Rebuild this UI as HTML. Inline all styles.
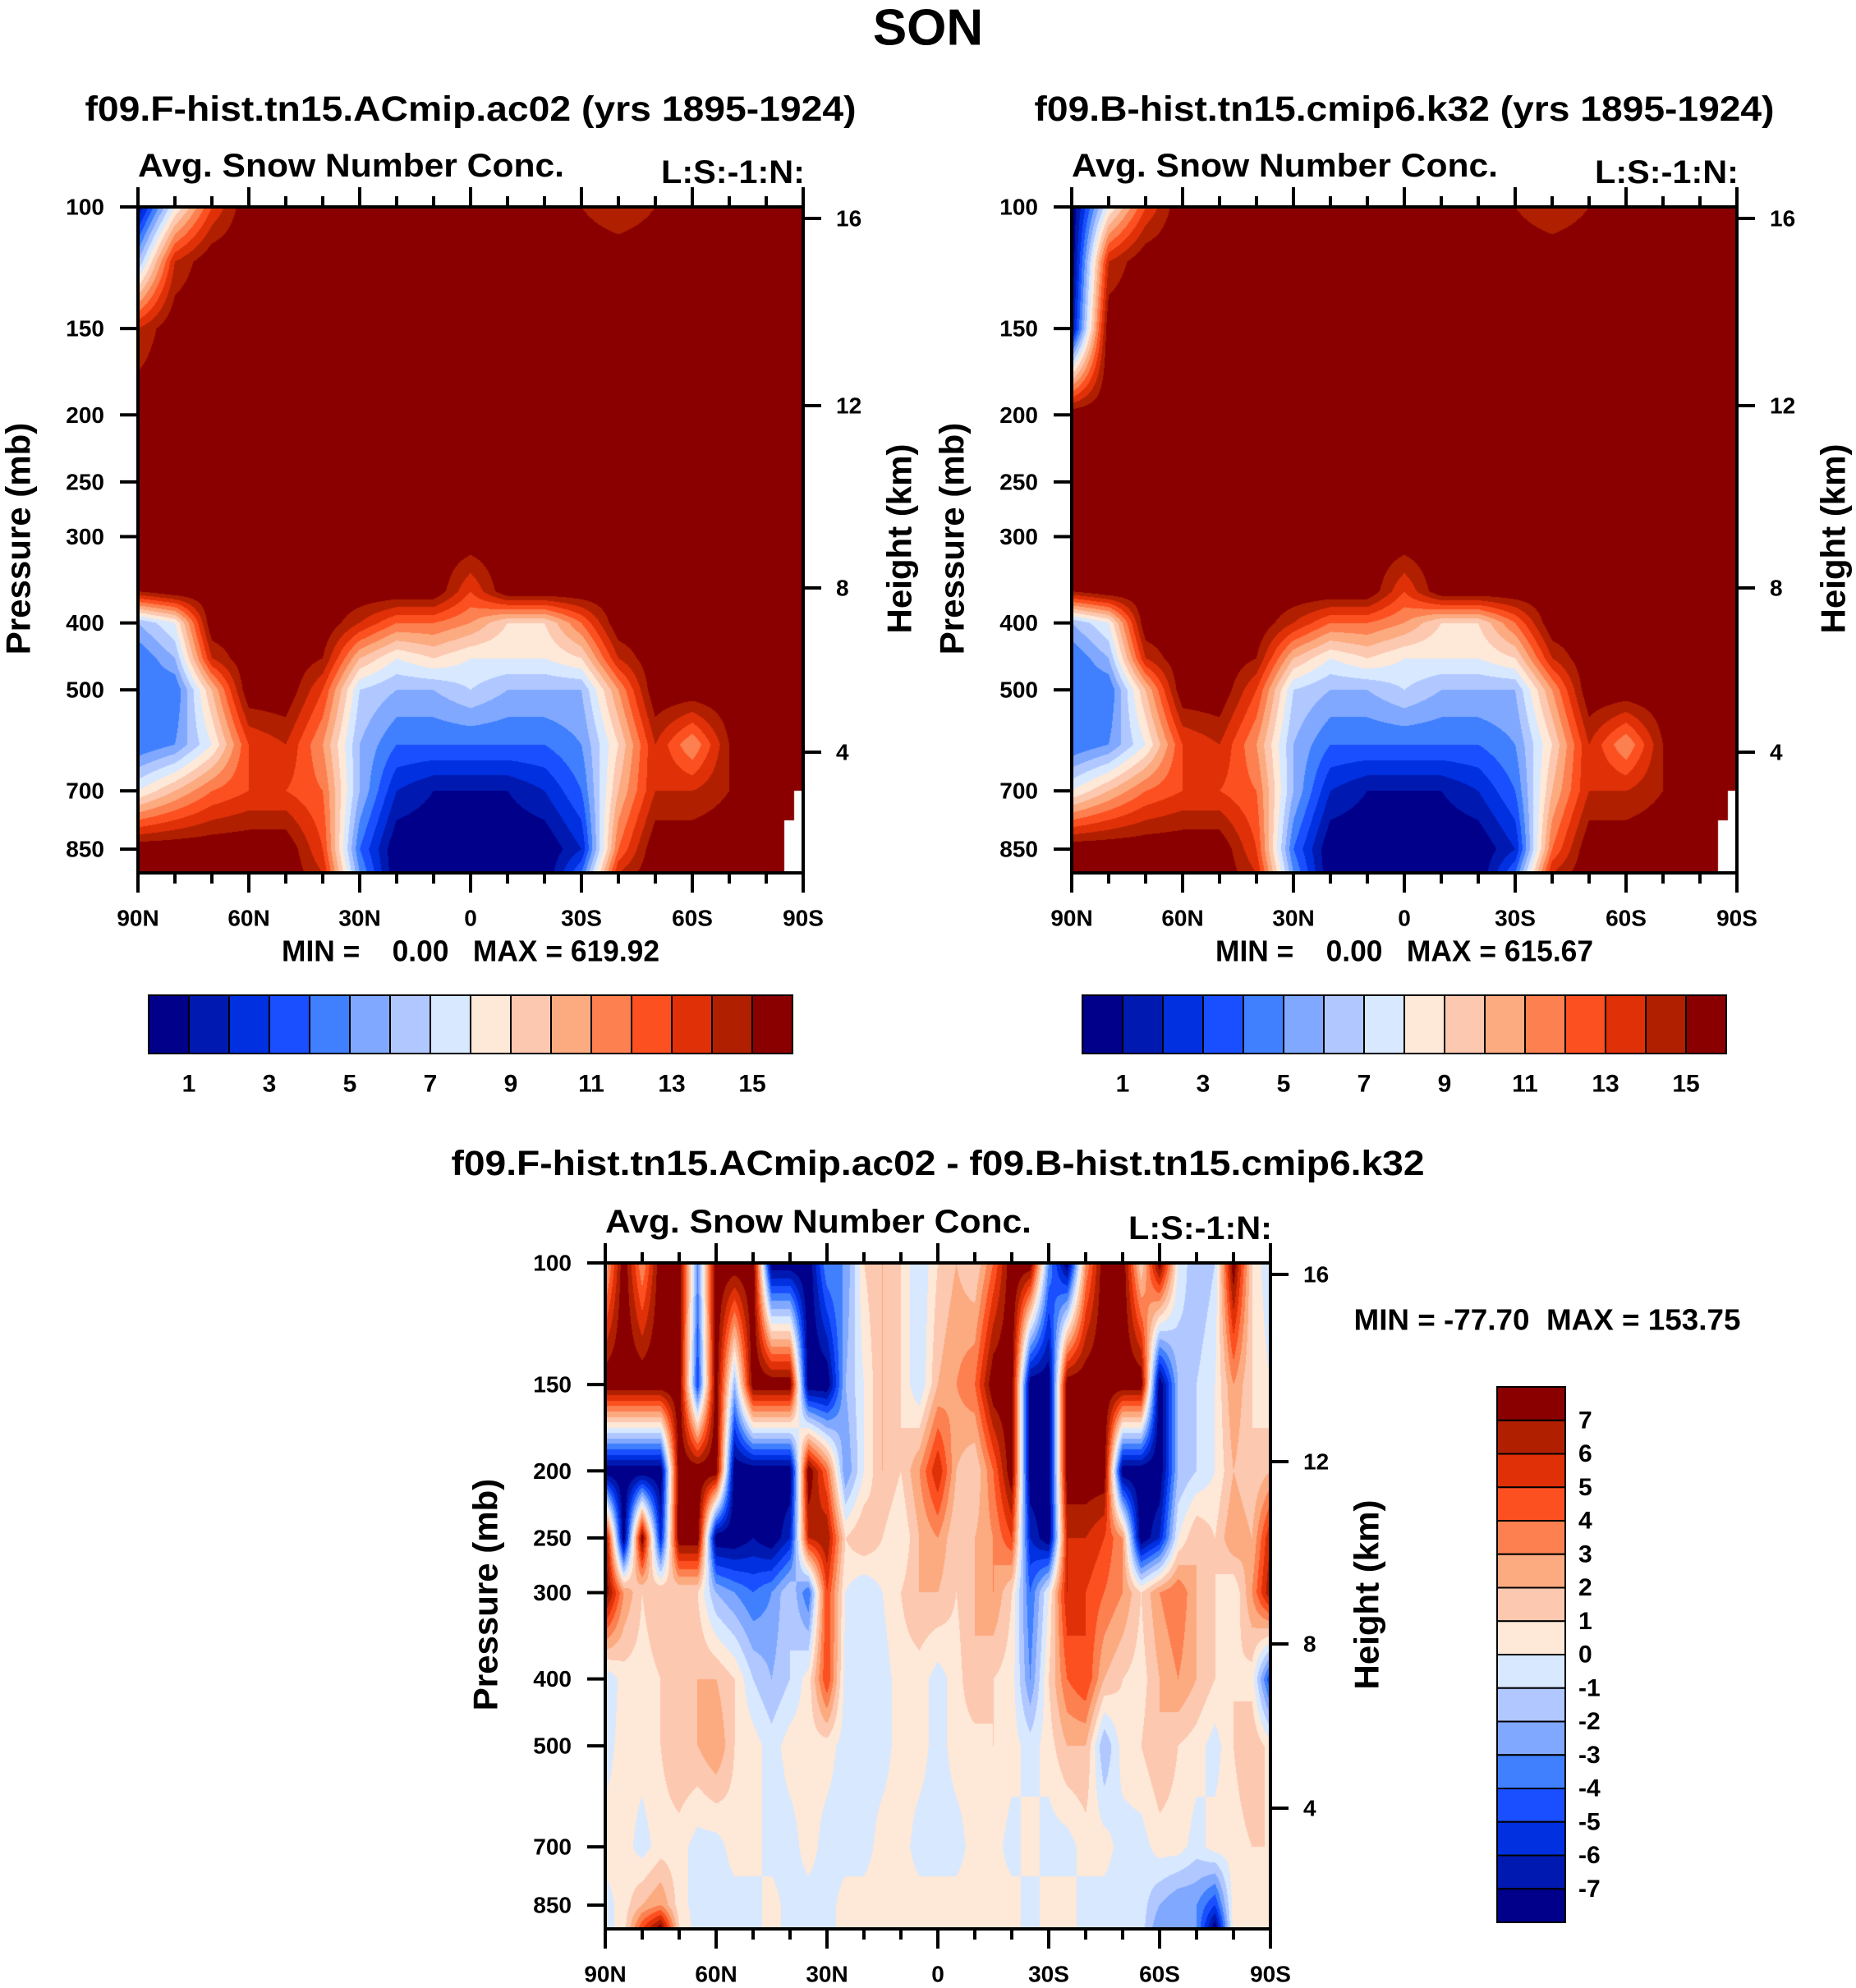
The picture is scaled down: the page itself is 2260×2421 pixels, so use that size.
<!DOCTYPE html>
<html><head><meta charset="utf-8">
<style>
html,body{margin:0;padding:0;background:#fff;}
#root{position:relative;width:2260px;height:2421px;overflow:hidden;background:#fff;}
canvas{position:absolute;}
svg{position:absolute;left:0;top:0;}
text{font-family:"Liberation Sans",sans-serif;font-weight:bold;fill:#000;white-space:pre;}
</style></head>
<body>
<div id="root">
<canvas id="c1" style="left:168px;top:252px" width="810" height="811"></canvas>
<canvas id="c2" style="left:1305px;top:252px" width="810" height="811"></canvas>
<canvas id="c3" style="left:737px;top:1538px" width="810" height="811"></canvas>
<svg id="ov" width="2260" height="2421"></svg>
</div>
<script>
// ---- data ----
const colors16 = ["#00008a","#0019b0","#0030e0","#1a4fff","#4080ff","#80a8ff","#b0c8ff","#d8e8ff","#fee8d8","#fcc8b0","#fcaa80","#fc8050","#fc5020","#e03008","#b02000","#8a0000"];
const latTicks = ["90N","60N","30N","0","30S","60S","90S"];
const presTicks = [100,150,200,250,300,400,500,700,850];
const heightTicks = ["16","12","8","4"];
const cbLabelsTop = ["1","3","5","7","9","11","13","15"];
const cbLabelsDiff = ["7","6","5","4","3","2","1","0","-1","-2","-3","-4","-5","-6","-7"];
const pLevelsA = [100,120,150,200,300,360,400,450,500,600,700,850,920];
const fieldA = [
 [1,8,13,16,16,16,16,16,16,16,16,16,15,14,15,16,16,16,16],
 [6,14,16,16,16,16,16,16,16,16,16,16,16,16,16,16,16,16,16],
 [14,16,16,16,16,16,16,16,16,16,16,16,16,16,16,16,16,16,16],
 [16,16,16,16,16,16,16,16,16,16,16,16,16,16,16,16,16,16,16],
 [16,16,16,16,16,16,16,16,16,16,16,16,16,16,16,16,16,16,16],
 [15,16,16,16,16,16,16,16,16,13,16,16,16,16,16,16,16,16,16],
 [6,8,16,16,16,16,14,12,12,11,9,9,12,16,16,16,16,16,16],
 [4,6,14,16,16,15,10,8,9,8,8,8,9,14,16,16,16,16,16],
 [4,4,10,16,16,13,7,6,6,7,6,6,6,11,16,16,16,16,16],
 [4,5,8,13,14,11,6,4,4,4,4,4,5,9,14,11,15,15,16],
 [8,10,12,13,13,12,6,2,1,1,1,2,4,10,14,14,15,16,16],
 [16,16,16,16,16,13,4,0,0,0,0,0,2,12,16,16,16,16,null],
 [16,16,16,16,16,14,5,0,0,0,0,0,4,14,16,16,16,16,null]
];
const fieldB = [
 [0,8,13,16,16,16,16,16,16,16,16,16,15,14,15,16,16,16,16],
 [0,14,16,16,16,16,16,16,16,16,16,16,16,16,16,16,16,16,16],
 [1,16,16,16,16,16,16,16,16,16,16,16,16,16,16,16,16,16,16],
 [16,16,16,16,16,16,16,16,16,16,16,16,16,16,16,16,16,16,16],
 [16,16,16,16,16,16,16,16,16,16,16,16,16,16,16,16,16,16,16],
 [15,16,16,16,16,16,16,16,16,13,16,16,16,16,16,16,16,16,16],
 [6,8,16,16,16,16,14,12,12,11,9,9,12,16,16,16,16,16,16],
 [4,6,14,16,16,15,10,8,9,8,8,8,9,14,16,16,16,16,16],
 [4,4,10,16,16,13,7,6,6,7,6,6,6,11,16,16,16,16,16],
 [4,5,8,13,14,11,6,4,4,4,4,4,5,9,14,11,15,15,16],
 [8,10,12,13,13,12,6,2,1,1,1,2,4,10,14,14,15,16,16],
 [16,16,16,16,16,13,4,0,0,0,0,0,2,12,16,16,16,16,null],
 [16,16,16,16,16,14,5,0,0,0,0,0,4,14,16,16,16,16,null]
];
const pLevelsD = [100,150,200,250,300,400,500,700,850,920];
const fieldD = [
 [2,8,3,8,8,-3,8,8,8,-8,-8,-8,-3,-3,1,2,1,-1,1,2,1,4,8,8,-3,-8,3,8,8,1,8,0,-2,-1,8,1,-1],
 [8,8,8,8,8,-5,8,-2,8,8,8,-8,-8,-2,0,2,1,-1,2,3,4,8,8,-8,-8,8,8,8,8,8,-8,-2,-1,0,3,1,0],
 [-8,-8,-8,-8,8,8,8,-8,-8,-8,-8,8,4,-3,0,2,1,3,6,2,1,4,8,-8,-8,8,8,8,-8,-8,-8,-2,-1,0,2,1,2],
 [8,-8,8,-6,8,8,-8,-8,-7,-8,-6,6,7,1,2,1,0,2,3,1,2,3,5,-6,-8,6,6,5,3,-8,-6,0,2,1,3,2,6],
 [8,3,1,2,1,1,-2,-3,-4,-3,-1,-4,5,0,-1,0,1,2,2,1,2,3,1,-4,0,6,5,4,3,1,3,4,2,1,0,3,7],
 [-1,0.5,0.5,1,1,2,2,1,-1,-2,-1,0.5,5,-0.5,-0.5,-0.5,0.5,0.5,-0.5,0.5,2,1,0.5,-3,1,4,5,2,1,0.5,2,3,2,1,1,0.5,-5],
 [-0.5,0.5,0.5,1,2,2,3,1,0.5,-0.5,0.5,0.5,0.5,-0.5,-0.5,-0.5,0.5,0.5,-0.5,0.5,0.5,1,0.5,-0.5,0.5,2,2,-2,0.5,1,2,1,0.5,-0.5,1,2,0.5],
 [0.5,0.5,-0.5,0.5,0.5,-0.5,-0.5,0.5,0.5,-0.5,-0.5,0.5,-0.5,-0.5,-0.5,0.5,0.5,-0.5,-0.5,-0.5,0.5,0.5,-0.5,0.5,-0.5,-0.5,0.5,0.5,-0.5,-0.5,0.5,0.5,-0.5,0.5,0.5,1,1],
 [-0.5,0.5,2,3,0.5,-0.5,-0.5,-0.5,-0.5,0.5,-0.5,-0.5,-0.5,0.5,0.5,0.5,0.5,0.5,0.5,0.5,0.5,0.5,0.5,-0.5,0.5,0.5,-0.5,-0.5,-0.5,-0.5,-2,-3,-3,-5,0.5,0.5,0.5],
 [-0.5,0.5,5,8,1,-0.5,-0.5,-0.5,-0.5,0.5,-0.5,-0.5,-0.5,0.5,0.5,0.5,0.5,0.5,0.5,0.5,0.5,0.5,0.5,-0.5,0.5,0.5,-0.5,-0.5,-0.5,-0.5,-3,-3,-3,-8,0.5,0.5,0.5]
];

// ---- axes ----
const W = 810, H = 811, PB = 920;
const pLn = Math.log(PB/100);
function yOfP(p){ return Math.log(p/100)/pLn*H; }
function pOfY(y){ return 100*Math.exp(y/H*pLn); }
function xOfLat(frac){ return frac*W; }
const heightOffsets = [14,242,464,664];

function hexRGB(h){return [parseInt(h.substr(1,2),16),parseInt(h.substr(3,2),16),parseInt(h.substr(5,2),16)];}
const rgb = colors16.map(hexRGB);

function drawField(id, levels, field, offset){
  const cv = document.getElementById(id), ctx = cv.getContext('2d');
  const img = ctx.createImageData(W,H), d = img.data;
  const ncol = field[0].length;
  const lnL = levels.map(v=>Math.log(v));
  for(let py=0; py<H; py++){
    const lp = Math.log(pOfY(py+0.5));
    let i=0; while(i<levels.length-2 && lp>lnL[i+1]) i++;
    let t=(lp-lnL[i])/(lnL[i+1]-lnL[i]); t=Math.max(0,Math.min(1,t));
    const r0=field[i], r1=field[i+1];
    for(let px=0; px<W; px++){
      const fx=(px+0.5)/W*(ncol-1);
      let j=Math.min(ncol-2,Math.floor(fx)); const s=fx-j;
      const a=r0[j],b=r0[j+1],c=r1[j],e=r1[j+1];
      const k=(py*W+px)*4;
      if(a===null||b===null||c===null||e===null){
        const nr = t<0.5?r0:r1, nv = nr[s<0.5?j:j+1];
        if(nv===null || (e===null && s>0.75)){d[k]=255;d[k+1]=255;d[k+2]=255;d[k+3]=255;continue;}
      }
      const A=a??16,B=b??16,C=c??16,E=e??16;
      const v=(A*(1-s)+B*s)*(1-t)+(C*(1-s)+E*s)*t;
      let ci=Math.floor(v+offset); ci=Math.max(0,Math.min(15,ci));
      const col=rgb[ci]; d[k]=col[0];d[k+1]=col[1];d[k+2]=col[2];d[k+3]=255;
    }
  }
  ctx.putImageData(img,0,0);
}
drawField('c1', pLevelsA, fieldA, 0);
drawField('c2', pLevelsA, fieldB, 0);
drawField('c3', pLevelsD, fieldD, 8);

// ---- overlay ----
const svg = document.getElementById('ov');
const NS = 'http://www.w3.org/2000/svg';
function mk(tag, attrs, parent){ const e=document.createElementNS(NS,tag); for(const k in attrs) e.setAttribute(k,attrs[k]); (parent||svg).appendChild(e); return e; }
function txt(s, x, y, size, anchor, parent, extra){
  const e=mk('text',Object.assign({x:x,y:y,'font-size':size,'text-anchor':anchor||'middle','dominant-baseline':'central'},extra||{}),parent);
  e.textContent=s; return e;
}

function panelAxes(x0,y0,g){
  const fr=mk('rect',{x:x0,y:y0,width:W,height:H,fill:'none',stroke:'#000','stroke-width':4},g);
   
  for(let k=0;k<=18;k++){
    const x=x0+xOfLat(k/18); const major=k%3===0; const L=major?24:13;
    const t1=mk('line',{x1:x,y1:y0+H,x2:x,y2:y0+H+L,stroke:'#000','stroke-width':4},g);
     
    const t2=mk('line',{x1:x,y1:y0,x2:x,y2:y0-L,stroke:'#000','stroke-width':4},g);
     
    if(major){ const lb=txt(latTicks[k/3], x, y0+H+55, 28,'middle',g);
        }
  }
  presTicks.forEach(p=>{
    const y=y0+yOfP(p);
    const t=mk('line',{x1:x0-22,y1:y,x2:x0,y2:y,stroke:'#000','stroke-width':4},g);
     
    const lb=txt(String(p), x0-41, y, 28,'end',g);
     
  });
  heightTicks.forEach((h,i)=>{
    const y=y0+heightOffsets[i];
    const t=mk('line',{x1:x0+W,y1:y,x2:x0+W+22,y2:y,stroke:'#000','stroke-width':4},g);
     
    const lb=txt(h, x0+W+40, y, 28,'start',g);
     
  });
  const pt=txt('Pressure (mb)',0,0,42,'middle',g,{transform:`translate(${x0-146},${y0+404}) rotate(-90)`});
   
  const ht=txt('Height (km)',0,0,42,'middle',g,{transform:`translate(${x0+W+117},${y0+404}) rotate(-90)`});
   
  const a=txt('Avg. Snow Number Conc.', x0, y0-50, 40,'start',g,{textLength:519,lengthAdjust:'spacingAndGlyphs'});
   
  const l=txt('L:S:-1:N:', x0+W+2, y0-42, 40,'end',g,{textLength:175,lengthAdjust:'spacingAndGlyphs'});
   
}

function hColorbar(x0,y0,w,h,g){
  const bw=w/16;
  for(let k=0;k<16;k++){
    const r=mk('rect',{x:x0+k*bw,y:y0,width:bw,height:h,fill:colors16[k],stroke:'#000','stroke-width':2},g);
     
  }
  cbLabelsTop.forEach((s,i)=>{
    const lb=txt(s, x0+(1+2*i)*bw, y0+h+37, 30,'middle',g);
     
  });
}

const titleSON=txt('SON',1130,34,62,'middle');
 

const g1=mk('g',{});  
const t1=txt('f09.F-hist.tn15.ACmip.ac02 (yrs 1895-1924)',573,133,43,'middle',g1,{textLength:939,lengthAdjust:'spacingAndGlyphs'});
 
panelAxes(168,252,g1);
const mm1=txt('MIN =    0.00   MAX = 619.92',573,1158,36,'middle',g1,{textLength:460,lengthAdjust:'spacingAndGlyphs'});
 
hColorbar(181,1212,784,71,g1);

const g2=mk('g',{});  
const t2=txt('f09.B-hist.tn15.cmip6.k32 (yrs 1895-1924)',1710,133,43,'middle',g2,{textLength:901,lengthAdjust:'spacingAndGlyphs'});
 
panelAxes(1305,252,g2);
const mm2=txt('MIN =    0.00   MAX = 615.67',1710,1158,36,'middle',g2,{textLength:460,lengthAdjust:'spacingAndGlyphs'});
 
hColorbar(1318,1212,784,71,g2);

const g3=mk('g',{});  
const t3=txt('f09.F-hist.tn15.ACmip.ac02 - f09.B-hist.tn15.cmip6.k32',1142,1417,43,'middle',g3,{textLength:1185,lengthAdjust:'spacingAndGlyphs'});
 
panelAxes(737,1538,g3);
const mm3=txt('MIN = -77.70  MAX = 153.75',1884,1607,36,'middle',g3,{textLength:471,lengthAdjust:'spacingAndGlyphs'});
 
(function(){
  const x0=1823,y0=1689,w=83,h=652,bh=h/16;
  for(let k=0;k<16;k++){
    const r=mk('rect',{x:x0,y:y0+k*bh,width:w,height:bh,fill:colors16[15-k],stroke:'#000','stroke-width':2},g3);
     
  }
  cbLabelsDiff.forEach((s,i)=>{
    const lb=txt(s, x0+w+16, y0+(i+1)*bh, 30,'start',g3);
     
  });
})();
</script>
</body></html>
